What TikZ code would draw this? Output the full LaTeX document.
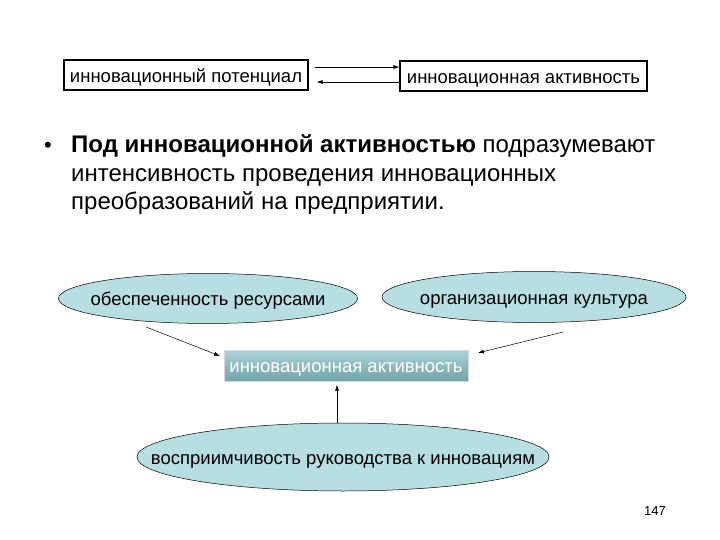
\documentclass[tikz,border=0pt]{standalone}
\usepackage{fontspec}
\setmainfont{Liberation Sans}
\usetikzlibrary{arrows.meta,shapes.geometric}
\definecolor{ovalfill}{HTML}{B7DEE1}
\definecolor{coretop}{HTML}{A9D3D7}
\definecolor{corebot}{HTML}{72A1A8}
\begin{document}
\begin{tikzpicture}[x=1pt,y=-1pt,
            box-node/.style={rectangle,draw=black,line width=1.2pt,minimum height=30pt,inner xsep=3pt,inner ysep=0pt,text height=3ex,text depth=0pt,font=\fontsize{18.5}{20}\selectfont},
            oval-node/.style={ellipse,draw=black,line width=0.5pt,fill=ovalfill,inner sep=0pt},
            oval-text/.style={inner sep=0pt,text height=2.8ex,text depth=0pt,font=\fontsize{18.5}{20}\selectfont},
            core-node/.style={rectangle,top color=coretop,bottom color=corebot,draw=white!85!black,line width=0.4pt,text=white,minimum width=244pt,minimum height=31pt,inner ysep=0pt,text height=2.6ex,text depth=0pt,font=\fontsize{18.5}{20}\selectfont},
            arr/.style={-{Latex[length=6pt,width=4pt]},line width=0.5pt},
        ]
            \useasboundingbox (0,0) rectangle (720,540);
            \node[box-node,minimum width=244pt] (potential) at (186, 75) {инновационный потенциал};
            \node[box-node,minimum width=247pt] (activity) at (523.5, 76) {инновационная активность};
            \coordinate (t1) at (315, 67);
            \coordinate (t2) at (399, 82);
            \draw[arr] (t1) -- (t1 -| activity.west);
            \draw[arr] (t2) -- ([xshift=8pt]t2 -| potential.east);
            \node (dot) at (48, 147) {\fontsize{22}{28}\selectfont •};
            \node[anchor=north west,align=left,inner sep=0pt,font=\fontsize{24}{28.5}\selectfont] (def) at (71, 134.5)
                {\textbf{Под инновационной активностью} подразумевают\\интенсивность проведения инновационных\\преобразований на предприятии.};
            \node[oval-node,minimum width=299pt,minimum height=50pt,label={[oval-text]center:обеспеченность ресурсами}] (res) at (208, 298.5) {};
            \node[oval-node,minimum width=304pt,minimum height=51pt,label={[oval-text]center:организационная культура}] (cult) at (534, 297) {};
            \node[core-node] (core) at (346, 366) {инновационная активность};
            \node[oval-node,minimum width=412pt,minimum height=68pt,label={[oval-text]center:восприимчивость руководства к инновациям}] (recept) at (343, 457) {};
            \coordinate (r1) at (146, 327);
            \coordinate (c1) at (563, 332);
            \draw[arr,shorten >=4pt] (r1) -- (core.176);
            \draw[arr,shorten >=10pt] (c1) -- (core.5);
            \draw[arr,shorten >=3pt] ([xshift=-6pt]recept.north) -- ([xshift=-6pt]recept.north |- core.south);
            \node[font=\fontsize{13}{15}\selectfont] (page) at (655, 511) {147};
        \end{tikzpicture}
\end{document}
